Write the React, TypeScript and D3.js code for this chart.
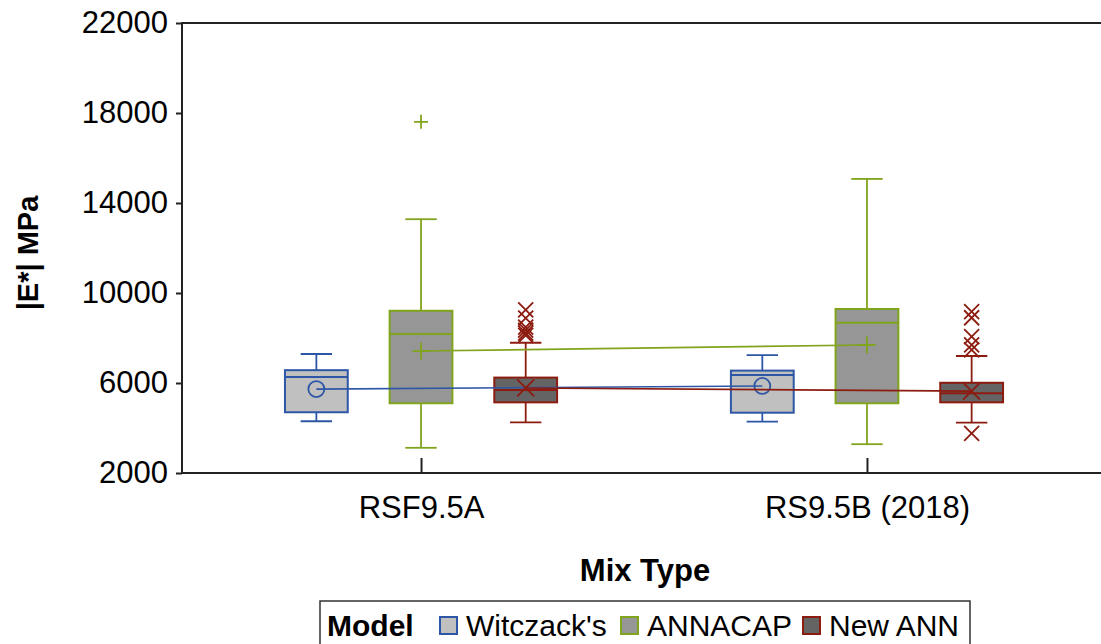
import React, { useEffect, useRef } from "react";
import * as d3 from "d3";

const categories = ["RSF9.5A", "RS9.5B (2018)"];
const models = ["Witczack's", "ANNACAP", "New ANN"];
const yTicks = [2000, 6000, 10000, 14000, 18000, 22000];

// per category: [min, q1, median, q3, max]
const witczackBox = [
  [4300, 4700, 6270, 6570, 7290],
  [4280, 4680, 6360, 6550, 7240],
];
const witczackMean = [5730, 5870];
const witczackOutliers = [[], []];

const annacapBox = [
  [3120, 5100, 8180, 9210, 13280],
  [3280, 5100, 8680, 9290, 15070],
];
const annacapMean = [7420, 7690];
const annacapOutliers = [[17610], []];

const newAnnBox = [
  [4250, 5140, 5690, 6240, 7790],
  [4240, 5140, 5540, 6010, 7200],
];
const newAnnMean = [5780, 5640];
const newAnnOutliers = [
  [9250, 8880, 8480, 8350, 8220, 8120],
  [9170, 8900, 8060, 7690, 7470, 3760],
];

const strokeColors = ["#2d56a6", "#80a41c", "#8c1b10"];
const fillColors = ["#c0c0c0", "#969696", "#646464"];
const markers = ["circle", "plus", "cross"];

const FONT = "'Liberation Sans', Arial, sans-serif";

export default function App() {
  const ref = useRef<SVGSVGElement>(null);

  useEffect(() => {
    const svg = d3.select(ref.current);
    svg.selectAll("*").remove();

    const left = 182, right = 1106, top = 23, bottom = 473;
    const y = d3.scaleLinear().domain([2000, 22000]).range([bottom, top]);
    const x = d3.scalePoint<string>().domain(categories).range([left, right]).padding(0.536);
    const sub = d3.scaleBand<string>().domain(models).range([-157, 157]);
    const boxW = sub.bandwidth() * 0.6;
    const capW = boxW / 2;

    const series = [
      { box: witczackBox, mean: witczackMean, out: witczackOutliers },
      { box: annacapBox, mean: annacapMean, out: annacapOutliers },
      { box: newAnnBox, mean: newAnnMean, out: newAnnOutliers },
    ];

    const drawMarker = (g: any, kind: string, cx: number, cy: number, color: string, size: number) => {
      if (kind === "circle") {
        g.append("circle").attr("cx", cx).attr("cy", cy).attr("r", size / 2)
          .attr("fill", "none").attr("stroke", color).attr("stroke-width", 1.8);
      } else if (kind === "plus") {
        const h = size / 2;
        g.append("path").attr("d", `M${cx - h},${cy}H${cx + h}M${cx},${cy - h}V${cy + h}`)
          .attr("stroke", color).attr("stroke-width", 1.8).attr("fill", "none");
      } else {
        const h = size / 2;
        g.append("path").attr("d", `M${cx - h},${cy - h}L${cx + h},${cy + h}M${cx - h},${cy + h}L${cx + h},${cy - h}`)
          .attr("stroke", color).attr("stroke-width", 1.8).attr("fill", "none");
      }
    };

    const plot = svg.append("g");

    series.forEach((s, mi) => {
      const color = strokeColors[mi];
      const g = plot.append("g");
      categories.forEach((c, ci) => {
        const cx = (x(c) as number) + (sub(models[mi]) as number) + sub.bandwidth() / 2;
        const [mn, q1, md, q3, mx] = s.box[ci];
        g.append("line").attr("x1", cx).attr("x2", cx).attr("y1", y(mx)).attr("y2", y(q3))
          .attr("stroke", color).attr("stroke-width", 1.8);
        g.append("line").attr("x1", cx).attr("x2", cx).attr("y1", y(q1)).attr("y2", y(mn))
          .attr("stroke", color).attr("stroke-width", 1.8);
        g.append("line").attr("x1", cx - capW / 2).attr("x2", cx + capW / 2).attr("y1", y(mx)).attr("y2", y(mx))
          .attr("stroke", color).attr("stroke-width", 1.8);
        g.append("line").attr("x1", cx - capW / 2).attr("x2", cx + capW / 2).attr("y1", y(mn)).attr("y2", y(mn))
          .attr("stroke", color).attr("stroke-width", 1.8);
        g.append("rect").attr("x", cx - boxW / 2).attr("y", y(q3)).attr("width", boxW)
          .attr("height", y(q1) - y(q3)).attr("fill", fillColors[mi]).attr("stroke", color).attr("stroke-width", 2);
        g.append("line").attr("x1", cx - boxW / 2).attr("x2", cx + boxW / 2).attr("y1", y(md)).attr("y2", y(md))
          .attr("stroke", color).attr("stroke-width", 2);
        s.out[ci].forEach((v: number) => {
          drawMarker(g, mi === 1 ? "plus" : "cross", cx, y(v), color, mi === 1 ? 14 : 15);
        });
      });
    });

    series.forEach((s, mi) => {
      const color = strokeColors[mi];
      const pts: [number, number][] = categories.map((c, ci) => [
        (x(c) as number) + (sub(models[mi]) as number) + sub.bandwidth() / 2,
        y(s.mean[ci]),
      ]);
      plot.append("path").attr("d", d3.line()(pts) as string).attr("fill", "none")
        .attr("stroke", color).attr("stroke-width", 1.6);
      pts.forEach(([px, py]) => drawMarker(plot, markers[mi], px, py, color, mi === 0 ? 16 : 17));
    });

    const axisColor = "#222";
    svg.append("path").attr("d", `M${left},${top}H${right}V${bottom}H${left}Z`)
      .attr("fill", "none").attr("stroke", axisColor).attr("stroke-width", 2);

    const yAxis = svg.append("g").attr("transform", `translate(${left},0)`)
      .call(d3.axisLeft(y).tickValues(yTicks).tickSize(6).tickFormat(d3.format("d")) as any);
    yAxis.select(".domain").remove();
    yAxis.selectAll("line").attr("stroke", axisColor).attr("stroke-width", 2);
    yAxis.selectAll("text").attr("font-family", FONT).attr("font-size", 31).attr("fill", "#000")
      .attr("x", -14);

    const xAxis = svg.append("g").attr("transform", `translate(0,${bottom})`)
      .call(d3.axisBottom(x).tickSize(-15) as any);
    xAxis.select(".domain").remove();
    xAxis.selectAll("line").attr("stroke", axisColor).attr("stroke-width", 2);
    xAxis.selectAll("text").attr("font-family", FONT).attr("font-size", 31).attr("fill", "#000")
      .attr("y", 23);

    svg.append("text").attr("x", 645).attr("y", 581).attr("text-anchor", "middle")
      .attr("font-family", FONT).attr("font-size", 31).attr("font-weight", "bold").text("Mix Type");
    svg.append("text").attr("transform", "translate(38,253) rotate(-90)").attr("text-anchor", "middle")
      .attr("font-family", FONT).attr("font-size", 29).attr("font-weight", "bold").text("|E*| MPa");

    const lg = svg.append("g");
    lg.append("rect").attr("x", 320).attr("y", 601).attr("width", 650).attr("height", 60)
      .attr("fill", "#fff").attr("stroke", "#333").attr("stroke-width", 1.5);
    lg.append("text").attr("x", 327).attr("y", 636).attr("font-family", FONT).attr("font-size", 30)
      .attr("font-weight", "bold").text("Model");
    const legendX = [440, 621, 803];
    models.forEach((m, i) => {
      lg.append("rect").attr("x", legendX[i]).attr("y", 617).attr("width", 17).attr("height", 17)
        .attr("fill", fillColors[i]).attr("stroke", strokeColors[i]).attr("stroke-width", 2);
      lg.append("text").attr("x", legendX[i] + 26).attr("y", 636).attr("font-family", FONT)
        .attr("font-size", 30).text(m);
    });
  }, []);

  return (
    <svg ref={ref} width={1101} height={644}
      style={{ position: "absolute", left: 0, top: 0, background: "#fff" }} />
  );
}
